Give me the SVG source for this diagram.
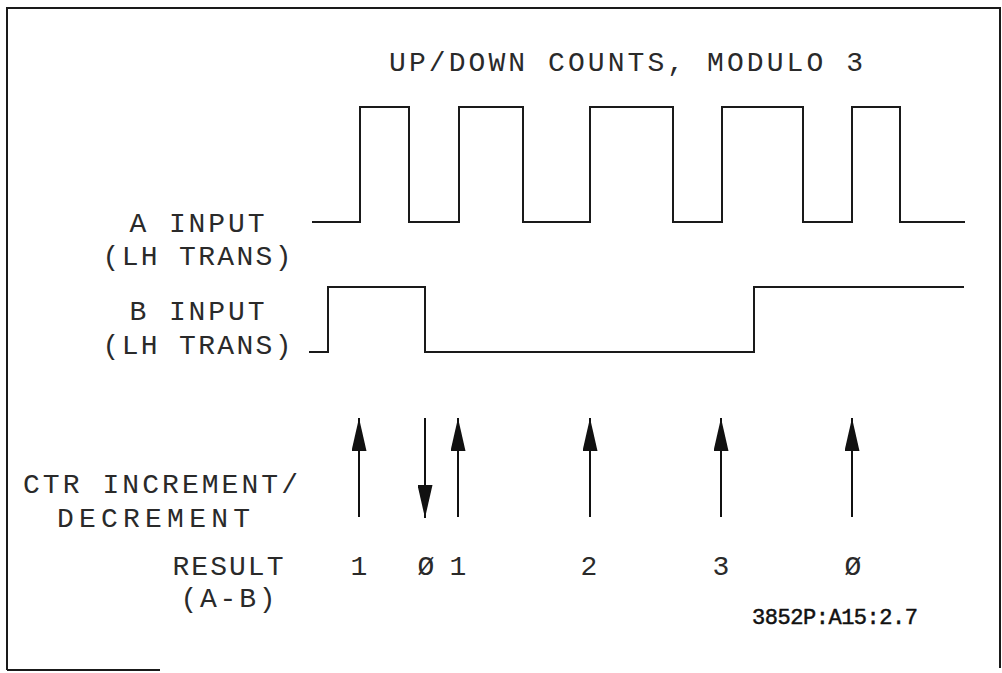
<svg xmlns="http://www.w3.org/2000/svg" width="1002" height="673" viewBox="0 0 1002 673">
  <style>
    .t { font-family: "Liberation Mono", "DejaVu Sans Mono", monospace; font-size: 28px; fill: #2a2a2a; }
    .ref { font-family: "Liberation Mono", "DejaVu Sans Mono", monospace; font-size: 22px; fill: #111; stroke: #111; stroke-width: 0.5; }
    .wave { fill: none; stroke: #1a1a1a; stroke-width: 2; stroke-linejoin: miter; }
    .frame { fill: none; stroke: #1a1a1a; stroke-width: 2; }
    .arr { stroke: #111; stroke-width: 2; fill: none; }
  </style>
  <defs>
    <marker id="head" viewBox="0 0 33 15" refX="33" refY="7.5" markerWidth="33" markerHeight="15" markerUnits="userSpaceOnUse" orient="auto">
      <path d="M0,0 L33,7.5 L0,15 Z" fill="#111"/>
    </marker>
  </defs>
  <rect width="1002" height="673" fill="#ffffff"/>
  <g id="frame">
    <path class="frame" d="M7,670 L7,8 L1000,8 L1000,668"/>
    <path class="frame" d="M7,670 L160,670"/>
  </g>
  <g id="title">
    <text class="t" x="626" y="71" text-anchor="middle" textLength="474" lengthAdjust="spacing">UP/DOWN COUNTS, MODULO 3</text>
  </g>
  <g id="label-a">
    <text class="t" x="197" y="232" text-anchor="middle" textLength="135" lengthAdjust="spacing">A INPUT</text>
    <text class="t" x="197" y="265" text-anchor="middle" textLength="189" lengthAdjust="spacing">(LH TRANS)</text>
  </g>
  <g id="label-b">
    <text class="t" x="197" y="320" text-anchor="middle" textLength="135" lengthAdjust="spacing">B INPUT</text>
    <text class="t" x="197" y="354" text-anchor="middle" textLength="189" lengthAdjust="spacing">(LH TRANS)</text>
  </g>
  <g id="label-ctr">
    <text class="t" x="23" y="493" textLength="275" lengthAdjust="spacing">CTR INCREMENT/</text>
    <text class="t" x="57" y="527" textLength="193" lengthAdjust="spacing">DECREMENT</text>
  </g>
  <g id="label-result">
    <text class="t" x="228" y="575" text-anchor="middle" textLength="111" lengthAdjust="spacing">RESULT</text>
    <text class="t" x="228" y="607" text-anchor="middle" textLength="95" lengthAdjust="spacing">(A-B)</text>
  </g>
  <g id="wave-a">
    <path class="wave" d="M312,222 L360,222 L360,107 L409,107 L409,222 L459,222 L459,107 L523,107 L523,222 L590,222 L590,107 L673,107 L673,222 L722,222 L722,107 L803,107 L803,222 L852,222 L852,107 L900,107 L900,222 L965,222"/>
  </g>
  <g id="wave-b">
    <path class="wave" d="M309,352 L328,352 L328,287 L425,287 L425,352 L754,352 L754,287 L964,287"/>
  </g>
  <g id="connectors">
    <line class="arr" x1="359" y1="517" x2="359" y2="418" marker-end="url(#head)"/>
    <line class="arr" x1="425" y1="418" x2="425" y2="518" marker-end="url(#head)"/>
    <line class="arr" x1="458" y1="517" x2="458" y2="418" marker-end="url(#head)"/>
    <line class="arr" x1="590" y1="517" x2="590" y2="418" marker-end="url(#head)"/>
    <line class="arr" x1="721" y1="517" x2="721" y2="418" marker-end="url(#head)"/>
    <line class="arr" x1="852" y1="517" x2="852" y2="418" marker-end="url(#head)"/>
  </g>
  <g id="results">
    <text class="t" x="359" y="575" text-anchor="middle">1</text>
    <text class="t" x="426" y="575" text-anchor="middle">Ø</text>
    <text class="t" x="458" y="575" text-anchor="middle">1</text>
    <text class="t" x="589" y="575" text-anchor="middle">2</text>
    <text class="t" x="721" y="575" text-anchor="middle">3</text>
    <text class="t" x="853" y="575" text-anchor="middle">Ø</text>
  </g>
  <g id="ref-code">
    <text class="ref" x="752" y="624" textLength="166" lengthAdjust="spacing">3852P:A15:2.7</text>
  </g>
</svg>
